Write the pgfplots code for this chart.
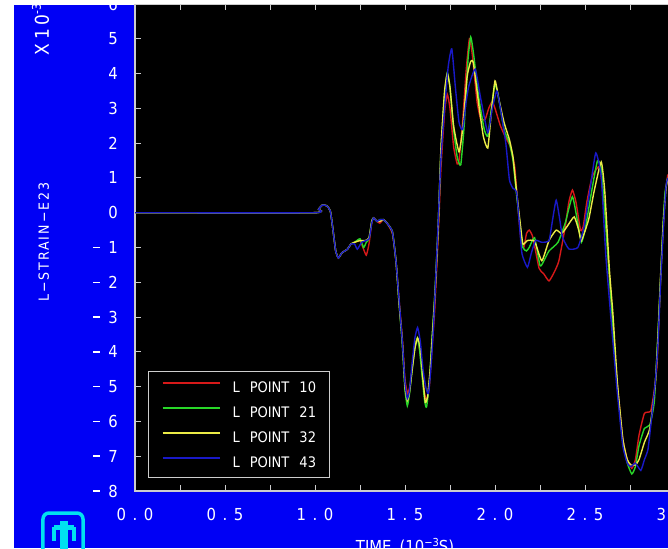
\documentclass[border=0pt]{standalone}
\usepackage{pgfplots}
\pgfplotsset{compat=1.18}
\usepackage{fontspec}
\setmainfont{DejaVu Sans Condensed}
\definecolor{bgblue}{RGB}{0,0,245}
\definecolor{logocyan}{RGB}{0,225,240}
\definecolor{axgray}{RGB}{205,205,205}
\definecolor{c10}{RGB}{215,25,25}
\definecolor{c21}{RGB}{40,215,40}
\definecolor{c32}{RGB}{235,235,70}
\definecolor{c43}{RGB}{25,25,200}
\newcommand\fs[1]{\fontsize{#1}{#1}\selectfont}
\newcommand\xl[2]{#1\kern6.5pt.\kern6.5pt#2}
\newcommand\ym[1]{\rule[5.3pt]{7pt}{1.6pt}\kern8pt#1}
\begin{document}
\begin{tikzpicture}[x=1pt,y=1pt]
\path[use as bounding box] (-135,-57) rectangle (533,491);
\fill[white] (-135,-57) rectangle (533,491);
\fill[bgblue] (-121,-57) rectangle (533,486);
\begin{scope}
\clip (-121,-57) rectangle (533,486);
\begin{axis}[
 at={(0,0)}, anchor=south west,
 scale only axis, width=540pt, height=487pt,
 xmin=0, xmax=3, ymin=-8, ymax=6,
 axis background/.style={fill=black},
 axis line style={axgray, line width=1.2pt},
 every tick/.style={axgray, line width=1pt},
 major tick length=6pt, minor tick length=6pt,
 tick align=inside,
 xtick={0,0.5,1,1.5,2,2.5,3}, minor xtick={0.25,0.75,1.25,1.75,2.25,2.75},
 xticklabels={\xl00,\xl05,\xl10,\xl15,\xl20,\xl25,\xl30},
 xticklabel style={font=\fs{16.5}, text=white, anchor=north, inner sep=0pt, yshift=-17pt},
 ytick={-8,-7,-6,-5,-4,-3,-2,-1,0,1,2,3,4,5,6},
 yticklabels={\ym8,\ym7,\ym6,\ym5,\ym4,\ym3,\ym2,\ym1,0,1,2,3,4,5,6},
 yticklabel style={font=\fs{16.5}, text=white, anchor=east, inner sep=0pt, xshift=-17pt},
 legend image code/.code={\draw[#1, line width=2pt, smooth=false] (0pt,5pt) -- (57pt,5pt);},
 legend cell align=left,
 legend style={at={(0.0241,0.2464)}, anchor=north west, draw=axgray, line width=1pt,
   fill=black, text=white, font=\fs{14.5}, inner xsep=13pt, inner ysep=10pt,
   row sep=14pt, column sep=12pt,
   nodes={inner sep=0pt, text height=10pt, text depth=0pt}},
 every axis plot/.append style={line width=1.4pt, smooth, tension=0.3},
]
\addplot[c10] coordinates {
(0,0) (0.99,0) (1.02,0.1) (1.04,0.22) (1.065,0.2) (1.085,0.05) (1.10,-0.5) (1.115,-1.1) (1.13,-1.3) (1.15,-1.15) (1.18,-1.05) (1.20,-0.9) (1.22,-0.85) (1.25,-0.8) (1.27,-1.05) (1.285,-1.22) (1.30,-0.9) (1.315,-0.3) (1.325,-0.15) (1.345,-0.25) (1.36,-0.3) (1.38,-0.2) (1.40,-0.3) (1.43,-0.6) (1.45,-1.4) (1.467,-2.5) (1.485,-3.6) (1.50,-4.8) (1.515,-5.2) (1.53,-4.9) (1.545,-4.2) (1.56,-3.7) (1.575,-3.7) (1.59,-4.3) (1.605,-5.1) (1.62,-5.4) (1.635,-5.0) (1.65,-3.9) (1.665,-2.8) (1.685,-0.6) (1.70,1.3) (1.72,2.9) (1.735,3.4) (1.75,3.0) (1.77,1.9) (1.79,1.4) (1.80,1.5) (1.82,2.6) (1.84,4.1) (1.858,5.0) (1.875,4.5) (1.90,3.2) (1.92,2.7) (1.945,2.68) (1.965,3.0) (1.985,3.2) (2.00,3.0) (2.03,2.5) (2.06,2.15) (2.085,1.9) (2.11,1.3) (2.13,0.0) (2.145,-0.8) (2.16,-1.0) (2.175,-0.6) (2.19,-0.5) (2.21,-0.7) (2.245,-1.6) (2.27,-1.75) (2.30,-1.96) (2.33,-1.7) (2.355,-1.38) (2.39,-0.41) (2.41,0.3) (2.43,0.65) (2.45,0.3) (2.475,-0.5) (2.49,-0.4) (2.51,0.3) (2.54,1.04) (2.58,1.33) (2.60,0.6) (2.615,-0.22) (2.635,-1.8) (2.65,-2.9) (2.665,-4.0) (2.68,-4.95) (2.71,-6.5) (2.735,-7.1) (2.76,-7.35) (2.78,-7.1) (2.80,-6.4) (2.83,-5.77) (2.865,-5.7) (2.885,-5.1) (2.90,-4.4) (2.91,-3.1) (2.92,-1.8) (2.935,-0.4) (2.945,0.5) (2.96,1.1)
};
\addlegendentry{L\hspace{10pt}POINT\hspace{10pt}10}
\addplot[c21] coordinates {
(0,0) (0.99,0) (1.02,0.1) (1.04,0.22) (1.065,0.2) (1.085,0.05) (1.10,-0.5) (1.115,-1.1) (1.13,-1.3) (1.15,-1.15) (1.18,-1.05) (1.20,-0.9) (1.22,-0.85) (1.25,-0.75) (1.27,-1.0) (1.285,-0.85) (1.30,-0.75) (1.315,-0.25) (1.325,-0.15) (1.345,-0.25) (1.36,-0.2) (1.38,-0.2) (1.40,-0.3) (1.43,-0.55) (1.45,-1.4) (1.467,-2.6) (1.485,-3.8) (1.50,-5.1) (1.513,-5.55) (1.525,-5.2) (1.54,-4.5) (1.555,-3.9) (1.568,-3.6) (1.58,-3.9) (1.595,-4.7) (1.61,-5.45) (1.62,-5.58) (1.635,-4.9) (1.65,-3.6) (1.665,-2.4) (1.685,-0.3) (1.70,1.8) (1.72,3.4) (1.735,4.03) (1.75,3.6) (1.77,2.4) (1.79,1.6) (1.81,1.38) (1.83,2.6) (1.85,4.4) (1.865,5.05) (1.88,4.6) (1.91,3.3) (1.94,2.4) (1.96,2.2) (1.98,3.0) (2.0,3.7) (2.02,3.3) (2.05,2.4) (2.08,2.0) (2.10,1.5) (2.12,0.5) (2.14,-0.4) (2.155,-1.0) (2.175,-1.1) (2.19,-1.0) (2.22,-0.72) (2.25,-1.52) (2.27,-1.4) (2.30,-1.1) (2.35,-0.85) (2.39,-0.3) (2.43,0.46) (2.46,-0.3) (2.48,-0.85) (2.50,-0.5) (2.52,0.1) (2.55,1.0) (2.57,1.5) (2.59,1.3) (2.61,0.0) (2.635,-1.8) (2.65,-2.9) (2.68,-5.0) (2.71,-6.6) (2.735,-7.2) (2.76,-7.51) (2.78,-7.3) (2.80,-6.7) (2.83,-6.2) (2.86,-6.1) (2.885,-5.43) (2.905,-3.5) (2.92,-1.8) (2.935,-0.2) (2.945,0.6) (2.96,1.0)
};
\addlegendentry{L\hspace{10pt}POINT\hspace{10pt}21}
\addplot[c32] coordinates {
(0,0) (0.99,0) (1.02,0.1) (1.04,0.22) (1.065,0.2) (1.085,0.05) (1.10,-0.5) (1.115,-1.1) (1.13,-1.3) (1.15,-1.15) (1.18,-1.05) (1.20,-0.9) (1.22,-0.85) (1.25,-0.8) (1.28,-0.8) (1.30,-0.72) (1.315,-0.25) (1.325,-0.15) (1.345,-0.25) (1.36,-0.25) (1.38,-0.2) (1.40,-0.3) (1.43,-0.55) (1.45,-1.4) (1.467,-2.6) (1.485,-3.7) (1.50,-5.0) (1.513,-5.4) (1.525,-5.15) (1.54,-4.5) (1.555,-3.9) (1.57,-3.6) (1.585,-3.9) (1.60,-4.8) (1.613,-5.45) (1.625,-5.3) (1.64,-4.5) (1.655,-3.3) (1.67,-2.0) (1.685,-0.3) (1.70,1.9) (1.72,3.5) (1.735,4.0) (1.75,3.6) (1.77,2.5) (1.80,1.75) (1.82,2.4) (1.845,3.9) (1.865,4.35) (1.88,4.3) (1.91,3.1) (1.935,2.2) (1.96,1.86) (1.98,2.9) (2.0,3.79) (2.02,3.3) (2.05,2.6) (2.08,2.1) (2.10,1.6) (2.12,0.6) (2.14,-0.3) (2.155,-0.9) (2.18,-0.8) (2.22,-0.82) (2.26,-1.38) (2.30,-0.8) (2.34,-0.5) (2.37,-0.6) (2.40,-0.4) (2.44,-0.12) (2.465,-0.5) (2.48,-0.8) (2.52,-0.2) (2.55,0.6) (2.59,1.46) (2.61,0.6) (2.635,-1.6) (2.655,-2.9) (2.68,-4.9) (2.71,-6.5) (2.735,-7.1) (2.755,-7.25) (2.78,-7.25) (2.80,-7.1) (2.83,-6.6) (2.86,-6.2) (2.89,-4.95) (2.905,-3.6) (2.92,-1.9) (2.935,-0.3) (2.95,0.7) (2.96,1.0)
};
\addlegendentry{L\hspace{10pt}POINT\hspace{10pt}32}
\addplot[c43] coordinates {
(0,0) (0.99,0) (1.02,0.1) (1.04,0.22) (1.065,0.2) (1.085,0.05) (1.10,-0.5) (1.115,-1.1) (1.13,-1.3) (1.15,-1.15) (1.18,-1.05) (1.20,-0.9) (1.22,-0.9) (1.235,-1.05) (1.26,-0.85) (1.30,-0.75) (1.315,-0.3) (1.325,-0.15) (1.345,-0.25) (1.36,-0.2) (1.38,-0.2) (1.40,-0.3) (1.43,-0.55) (1.45,-1.4) (1.467,-2.5) (1.485,-3.7) (1.50,-4.9) (1.513,-5.35) (1.525,-5.1) (1.54,-4.3) (1.555,-3.6) (1.57,-3.3) (1.585,-3.7) (1.60,-4.5) (1.615,-5.0) (1.63,-5.2) (1.645,-4.4) (1.66,-3.1) (1.68,-0.8) (1.70,1.6) (1.72,3.0) (1.74,4.2) (1.76,4.71) (1.78,3.6) (1.80,2.6) (1.82,2.39) (1.84,3.2) (1.855,3.65) (1.89,4.13) (1.92,3.3) (1.96,2.3) (1.985,3.0) (2.01,3.5) (2.03,3.0) (2.06,2.0) (2.08,0.95) (2.10,0.7) (2.12,0.6) (2.135,-0.3) (2.15,-1.18) (2.18,-1.57) (2.20,-1.2) (2.225,-0.8) (2.26,-0.85) (2.30,-0.8) (2.32,-0.2) (2.34,0.36) (2.36,-0.2) (2.375,-0.7) (2.41,-1.04) (2.46,-1.0) (2.495,-0.41) (2.53,0.75) (2.56,1.72) (2.59,1.04) (2.615,-1.18) (2.645,-3.1) (2.68,-5.2) (2.71,-6.7) (2.735,-7.2) (2.755,-7.3) (2.78,-7.2) (2.81,-7.41) (2.83,-7.1) (2.85,-6.8) (2.87,-5.9) (2.89,-4.9) (2.905,-3.8) (2.92,-2.0) (2.935,-0.5) (2.95,0.75) (2.96,1.0)
};
\addlegendentry{L\hspace{10pt}POINT\hspace{10pt}43}
\end{axis}
\node[rotate=90, anchor=base west, inner sep=0pt, text=white, font=\fs{14}] at (-86,189) {\addfontfeature{LetterSpace=14}L−STRAIN−E23};
\node[rotate=90, anchor=base west, inner sep=0pt, text=white, font=\fs{19}] at (-86,435) {X\kern5pt1\kern3pt0\raisebox{8pt}{\fs{12}-3}};
\node[anchor=base, inner sep=0pt, text=white, font=\fs{16.5}] at (270,-61) {TIME\kern8pt(10\raisebox{6pt}{\fs{11}−3}S)};
\draw[logocyan, line width=3.5pt, rounded corners=6pt] (-92,-22) rectangle (-52,-64);
\fill[logocyan] (-81,-34) rectangle (-61,-39);
\fill[logocyan] (-83,-36) rectangle (-79,-50);
\fill[logocyan] (-63,-36) rectangle (-59,-50);
\fill[logocyan] (-75,-30) rectangle (-67,-62);
\end{scope}
\end{tikzpicture}
\end{document}
